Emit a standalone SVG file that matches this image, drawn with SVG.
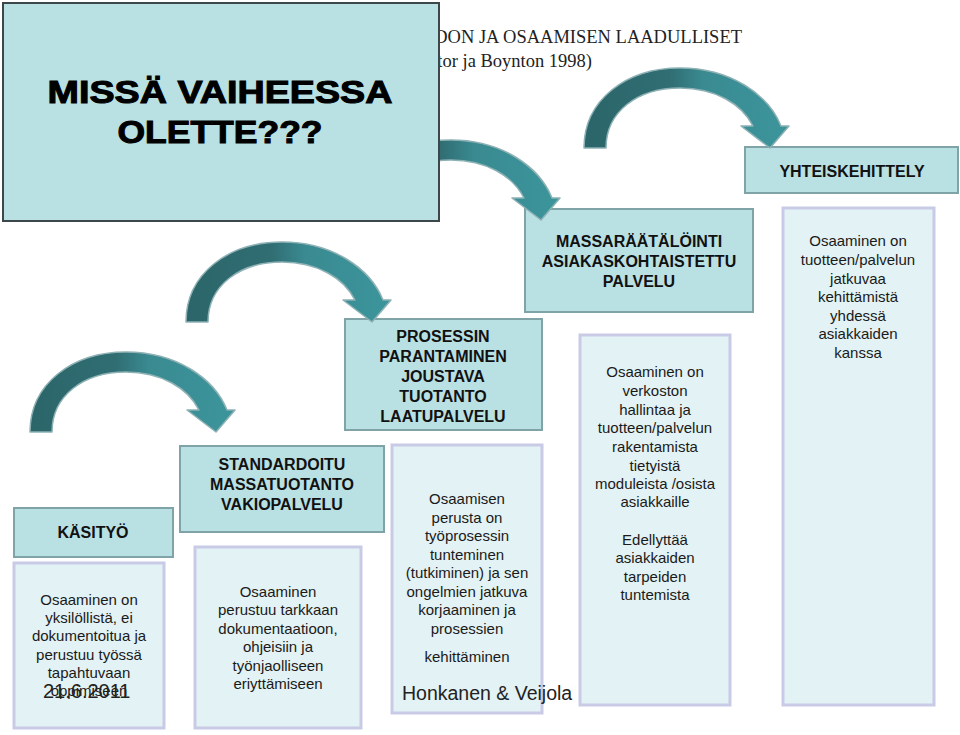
<svg xmlns="http://www.w3.org/2000/svg" xmlns:xlink="http://www.w3.org/1999/xlink" width="960" height="735" viewBox="0 0 960 735">
<style>
.hdr{fill:#b9e0e3;stroke:#7fa3a6;stroke-width:2}
.bdy{fill:#e3f2f4;stroke:#c9cbe6;stroke-width:3}
.ht{font-family:"Liberation Sans",Arial,sans-serif;font-weight:bold;font-size:16px;fill:#111;text-anchor:middle}
.bt{font-family:"Liberation Sans",Arial,sans-serif;font-size:15px;fill:#1a1a1a;text-anchor:middle}
.ttl{font-family:"Liberation Serif","Times New Roman",serif;font-size:18.5px;fill:#222;text-anchor:end}
.arr{fill:url(#ag);stroke:#8db1b4;stroke-width:1.5;stroke-linejoin:round}
.q{font-family:"Liberation Sans",Arial,sans-serif;font-weight:bold;font-size:31px;fill:#000;stroke:#000;stroke-width:1;text-anchor:middle}
</style>
<defs>
<linearGradient id="ag" x1="0" y1="0" x2="1" y2="0">
<stop offset="0" stop-color="#2b6569"/>
<stop offset="0.42" stop-color="#306e73"/>
<stop offset="0.58" stop-color="#3a8a91"/>
<stop offset="1" stop-color="#3c959c"/>
</linearGradient>
<path id="carrow" class="arr" d="M0,0 C0,-48 42,-80 96,-80 C146,-80 184,-54 197,-22 L205,-22 L186,0 L157,-22 L169,-22 C158,-44 131,-60 96,-60 C53,-60 22,-36 22,0 Z"/>
</defs>
<rect width="960" height="735" fill="#ffffff"/>

<g id="title">
<text class="ttl" x="742" y="43">DON JA OSAAMISEN LAADULLISET</text>
<text class="ttl" x="592" y="67">tor ja Boynton 1998)</text>
</g>

<g id="node-kasityo">
<rect class="hdr" x="14" y="508" width="159" height="49"/>
<text class="ht" x="93" y="538">KÄSITYÖ</text>
<rect class="bdy" x="14" y="563" width="150" height="165"/>
<text class="bt"><tspan x="89" y="605">Osaaminen on</tspan><tspan x="89" y="623">yksilöllistä, ei</tspan><tspan x="89" y="641">dokumentoitua ja</tspan><tspan x="89" y="660">perustuu työssä</tspan><tspan x="89" y="678">tapahtuvaan</tspan><tspan x="89" y="696">oppimiseen</tspan></text>
<text x="43" y="698" font-family="Liberation Sans, Arial, sans-serif" font-size="20" fill="#222">21.6.2011</text>
</g>

<g id="node-standardoitu">
<rect class="hdr" x="180" y="446" width="204" height="86"/>
<text class="ht"><tspan x="282" y="470">STANDARDOITU</tspan><tspan x="282" y="490">MASSATUOTANTO</tspan><tspan x="282" y="510">VAKIOPALVELU</tspan></text>
<rect class="bdy" x="195" y="547" width="166" height="181"/>
<text class="bt"><tspan x="278" y="597">Osaaminen</tspan><tspan x="278" y="615">perustuu tarkkaan</tspan><tspan x="278" y="634">dokumentaatioon,</tspan><tspan x="278" y="652">ohjeisiin ja</tspan><tspan x="278" y="671">työnjaolliseen</tspan><tspan x="278" y="689">eriyttämiseen</tspan></text>
</g>

<g id="node-prosessin">
<rect class="hdr" x="345" y="319" width="197" height="111"/>
<text class="ht"><tspan x="443" y="342">PROSESSIN</tspan><tspan x="443" y="362">PARANTAMINEN</tspan><tspan x="443" y="382">JOUSTAVA</tspan><tspan x="443" y="402">TUOTANTO</tspan><tspan x="443" y="422">LAATUPALVELU</tspan></text>
<rect class="bdy" x="392" y="445" width="150" height="268"/>
<text class="bt"><tspan x="467" y="504">Osaamisen</tspan><tspan x="467" y="523">perusta on</tspan><tspan x="467" y="541">työprosessin</tspan><tspan x="467" y="560">tunteminen</tspan><tspan x="467" y="578">(tutkiminen) ja sen</tspan><tspan x="467" y="597">ongelmien jatkuva</tspan><tspan x="467" y="615">korjaaminen ja</tspan><tspan x="467" y="634">prosessien</tspan><tspan x="467" y="662">kehittäminen</tspan></text>
<text x="402" y="700" font-family="Liberation Sans, Arial, sans-serif" font-size="19.5" fill="#222">Honkanen &amp; Veijola</text>
</g>

<g id="node-massaraatalointi">
<rect class="hdr" x="525" y="209" width="228" height="103"/>
<text class="ht"><tspan x="639" y="247">MASSARÄÄTÄLÖINTI</tspan><tspan x="639" y="267">ASIAKASKOHTAISTETTU</tspan><tspan x="639" y="287">PALVELU</tspan></text>
<rect class="bdy" x="580" y="335" width="150" height="370"/>
<text class="bt"><tspan x="655" y="377">Osaaminen on</tspan><tspan x="655" y="396">verkoston</tspan><tspan x="655" y="415">hallintaa ja</tspan><tspan x="655" y="433">tuotteen/palvelun</tspan><tspan x="655" y="452">rakentamista</tspan><tspan x="655" y="471">tietyistä</tspan><tspan x="655" y="489">moduleista /osista</tspan><tspan x="655" y="507">asiakkaille</tspan><tspan x="655" y="545">Edellyttää</tspan><tspan x="655" y="563">asiakkaiden</tspan><tspan x="655" y="582">tarpeiden</tspan><tspan x="655" y="600">tuntemista</tspan></text>
</g>

<g id="node-yhteiskehittely">
<rect class="hdr" x="745" y="147" width="213" height="46"/>
<text class="ht" x="852" y="177">YHTEISKEHITTELY</text>
<rect class="bdy" x="783" y="208" width="151" height="497"/>
<text class="bt"><tspan x="858" y="246">Osaaminen on</tspan><tspan x="858" y="265">tuotteen/palvelun</tspan><tspan x="858" y="284">jatkuvaa</tspan><tspan x="858" y="302">kehittämistä</tspan><tspan x="858" y="321">yhdessä</tspan><tspan x="858" y="339">asiakkaiden</tspan><tspan x="858" y="358">kanssa</tspan></text>
</g>

<g id="connectors">
<use xlink:href="#carrow" href="#carrow" transform="translate(30,432)"/>
<use xlink:href="#carrow" href="#carrow" transform="translate(186,322)"/>
<use xlink:href="#carrow" href="#carrow" transform="translate(355,220)"/>
<use xlink:href="#carrow" href="#carrow" transform="translate(584,148)"/>
</g>

<g id="node-question">
<rect x="3" y="3" width="436" height="218" fill="#b9e0e3" stroke="#3d4749" stroke-width="2"/>
<text class="q" x="220" y="103" textLength="345" lengthAdjust="spacingAndGlyphs">MISSÄ VAIHEESSA</text>
<text class="q" x="220" y="143" textLength="205" lengthAdjust="spacingAndGlyphs">OLETTE???</text>
</g>
</svg>
